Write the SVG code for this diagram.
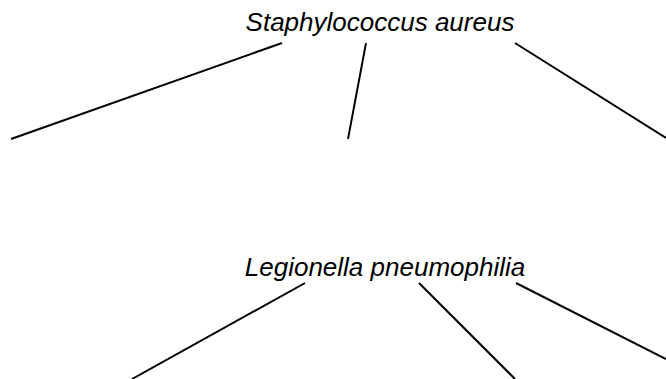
<svg xmlns="http://www.w3.org/2000/svg" width="666" height="379" viewBox="0 0 666 379">
<style>
.lbl{font-family:"Liberation Sans",Arial,sans-serif;font-style:italic;font-size:26px;fill:#000;text-anchor:middle}
.edge{stroke:#000;stroke-width:2;fill:none}
</style>
<rect width="666" height="379" fill="#fff"/>
<g id="node-staph"><text class="lbl" x="380" y="31">Staphylococcus aureus</text></g>
<g id="node-legionella"><text class="lbl" x="385" y="276">Legionella pneumophilia</text></g>
<g id="connectors">
<line class="edge" x1="282" y1="43" x2="11" y2="139"/>
<line class="edge" x1="366" y1="43" x2="348" y2="139"/>
<line class="edge" x1="515" y1="43" x2="666" y2="138"/>
<line class="edge" x1="305" y1="283" x2="132" y2="379"/>
<line class="edge" x1="419" y1="283" x2="515" y2="379"/>
<line class="edge" x1="516" y1="283" x2="666" y2="359"/>
</g>
</svg>
